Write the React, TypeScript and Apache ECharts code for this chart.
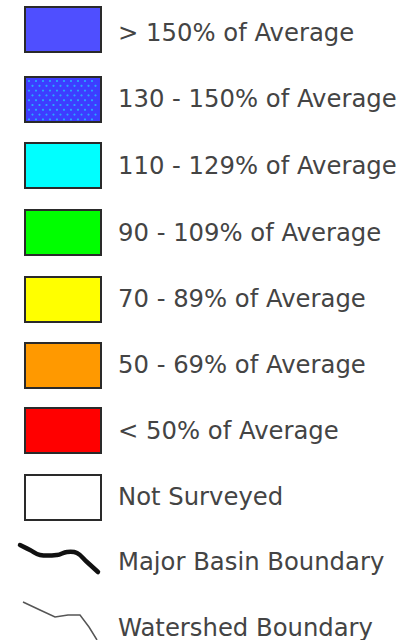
import React, { useEffect, useRef } from "react";
import * as echarts from "echarts";

const labels = [
  "> 150% of Average",
  "130 - 150% of Average",
  "110 - 129% of Average",
  "90 - 109% of Average",
  "70 - 89% of Average",
  "50 - 69% of Average",
  "< 50% of Average",
  "Not Surveyed",
];
const fills = ["#4f4fff", "#3d3dff", "#00ffff", "#00ff00", "#ffff00", "#ff9900", "#ff0000", "#ffffff"];
const dotted = [false, true, false, false, false, false, false, false];
const swatchTops = [7, 77, 143, 210, 277, 343, 408, 475];
const textCenters = [32, 98, 165, 232, 298, 364, 430, 496];
const lineLabels = ["Major Basin Boundary", "Watershed Boundary"];
const lineCenters = [561, 627];
const majorPts = [[20, 545], [30, 550], [40, 555], [57, 555], [67, 552], [77, 553], [87, 562], [98, 572]];
const watershedPts = [[23, 602], [40, 610], [55, 617], [68, 615], [80, 615], [89, 627], [97, 640]];

export default function App() {
  const ref = useRef<HTMLDivElement>(null);
  useEffect(() => {
    const chart = echarts.init(ref.current!, null, { renderer: "svg" });
    const elements: any[] = [];
    const font = "DejaVu Sans";
    const size = 24.3;
    labels.forEach((lab, i) => {
      const y = swatchTops[i];
      elements.push({
        type: "rect",
        shape: { x: 25, y, width: 76, height: 45 },
        style: { fill: fills[i], stroke: "#2a2a2a", lineWidth: 2 },
      });
      if (dotted[i]) {
        const dots: any[] = [];
        for (let r = 0; r < 9; r++) {
          for (let c = 0; c < 11; c++) {
            const dx = 29 + c * 7 + (r % 2 ? 3.5 : 0);
            const dy = y + 4 + r * 4.8;
            if (dx > 98) continue;
            dots.push({
              type: "circle",
              shape: { cx: dx, cy: dy, r: 1.1 },
              style: { fill: "#29a6ff" },
            });
          }
        }
        elements.push({ type: "group", children: dots });
      }
      elements.push({
        type: "text",
        x: 118,
        y: textCenters[i],
        style: {
          text: lab,
          fill: "#444",
          font: `${size}px "${font}"`,
          verticalAlign: "middle",
        },
      });
    });
    elements.push({
      type: "polyline",
      shape: { points: majorPts, smooth: 0.4 },
      style: { stroke: "#111", lineWidth: 4.5, lineCap: "round", lineJoin: "round", fill: "none" },
    });
    elements.push({
      type: "polyline",
      shape: { points: watershedPts },
      style: { stroke: "#555", lineWidth: 1.5, fill: "none" },
    });
    lineLabels.forEach((lab, i) => {
      elements.push({
        type: "text",
        x: 118,
        y: lineCenters[i],
        style: { text: lab, fill: "#444", font: `${size}px "${font}"`, verticalAlign: "middle" },
      });
    });
    chart.setOption({
      animation: false,
      backgroundColor: "#ffffff",
      graphic: { elements },
    });
    return () => chart.dispose();
  }, []);
  return <div ref={ref} style={{ position: "fixed", left: 0, top: 0, width: 407, height: 640 }} />;
}
